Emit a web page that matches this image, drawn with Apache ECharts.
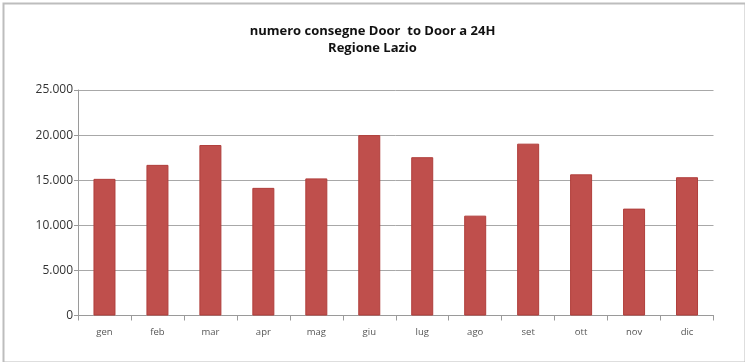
<!DOCTYPE html>
<html>
<head>
<meta charset="utf-8">
<script src="https://cdn.jsdelivr.net/npm/echarts@6/dist/echarts.min.js"></script>
<style>
html,body{margin:0;padding:0;background:#fff;}
#c{width:745px;height:362px;}
</style>
</head>
<body>
<div id="c"></div>
<script>
const titleLines = ['numero consegne Door  to Door a 24H', 'Regione Lazio'];
const categories = ['gen','feb','mar','apr','mag','giu','lug','ago','set','ott','nov','dic'];
const values = [15150, 16700, 18900, 14150, 15200, 20000, 17550, 11070, 19050, 15650, 11850, 15330];
const yTicks = [0, 5000, 10000, 15000, 20000, 25000];

const chart = echarts.init(document.getElementById('c'), null, {renderer:'canvas'});
const fmt = v => String(v).replace(/\B(?=(\d{3})+(?!\d))/g, '.');
chart.setOption({
  animation: false,
  backgroundColor: '#fff',
  title: {
    text: titleLines.join('\n'),
    left: 'center',
    top: 18,
    textStyle: {fontFamily: 'Open Sans', fontWeight: 'bold', fontSize: 13, color: '#111', lineHeight: 17}
  },
  graphic: [{
    type: 'rect', left: 1, top: 1,
    shape: {width: 742, height: 359},
    style: {fill: 'none', stroke: '#bdbdbd', lineWidth: 2}
  }],
  grid: {left: 78, right: 31.5, top: 90, bottom: 46.5, containLabel: false},
  xAxis: {
    type: 'category',
    data: categories,
    axisLine: {lineStyle: {color: '#9a9a9a', width: 1}},
    axisTick: {show: true, length: 5, lineStyle: {color: '#9a9a9a'}},
    axisLabel: {color: '#555', fontSize: 9.5, fontFamily: 'Open Sans', margin: 12}
  },
  yAxis: {
    type: 'value',
    min: yTicks[0], max: yTicks[yTicks.length-1], interval: 5000,
    axisLine: {show: true, lineStyle: {color: '#9a9a9a', width: 1}},
    axisTick: {show: true, length: 4, lineStyle: {color: '#9a9a9a'}},
    splitLine: {lineStyle: {color: '#a8a8a8', width: 1}},
    axisLabel: {color: '#333', fontSize: 12, fontFamily: 'Open Sans', margin: 5, formatter: fmt}
  },
  series: [{
    type: 'bar',
    data: values,
    barWidth: 22,
    itemStyle: {color: '#bf4f4c', borderColor: '#b03e3b', borderWidth: 1}
  }]
});
</script>
</body>
</html>
